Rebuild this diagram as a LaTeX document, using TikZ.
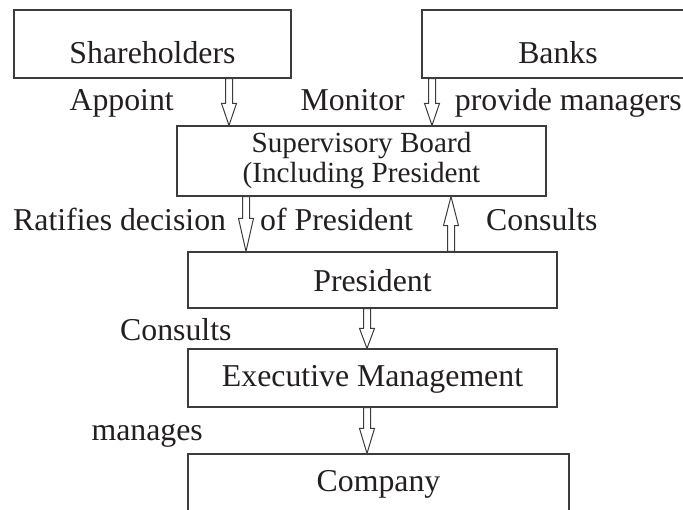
\documentclass[tikz,border=0pt]{standalone}
\usepackage{fontspec}
\setmainfont{Liberation Serif}
\usetikzlibrary{calc}
\definecolor{ink}{RGB}{35,31,32}
\definecolor{rule}{RGB}{60,60,60}
\tikzset{
  box/.style={draw=rule, line width=1.1pt, inner sep=0pt, text=ink,
    font=\fontsize{31.8}{38}\selectfont},
  tag/.style={inner sep=0pt, text=ink, font=\fontsize{31.8}{38}\selectfont},
  blockarrow/.style={draw=rule, fill=white, line width=1pt, line join=miter},
}
% hollow block arrow from #1 to #2 with a head of length #3
\newcommand\hollowarrow[3]{%
  \path ($(#2)!#3!(#1)$) coordinate (ha);
  \draw[blockarrow] ($(#1)!3.5pt!90:(#2)$) -- ($(ha)!3.5pt!-90:(#1)$)
    -- ($(ha)!7.5pt!-90:(#1)$) -- (#2) -- ($(ha)!7.5pt!90:(#1)$)
    -- ($(ha)!3.5pt!90:(#1)$) -- ($(#1)!3.5pt!-90:(#2)$) -- cycle;
}
\begin{document}
\begin{tikzpicture}[x=1pt, y=-1pt]
\useasboundingbox (0,0) rectangle (683,509);

% boxes
\node[box, minimum width=277pt, minimum height=68pt, text height=38pt, text depth=0pt] (sh) at (152.5,44) {Shareholders};
\node[box, minimum width=272pt, minimum height=68pt, text height=38pt, text depth=0pt] (bk) at (558,44) {Banks};
\node[box, minimum width=369pt, minimum height=70pt, align=center,
      font=\fontsize{29.2}{30}\selectfont] (sb) at (361.5,161) {Supervisory Board\\(Including President};
\node[box, minimum width=369pt, minimum height=56pt, text height=22pt, text depth=0pt] (pr) at (372.5,280) {President};
\node[box, minimum width=369pt, minimum height=58pt, text height=16pt, text depth=0pt] (ex) at (372.5,378) {Executive Management};
\node[box, minimum width=381pt, minimum height=60pt, text height=14pt, text depth=0pt] (co) at (378.5,484) {Company};

% labels beside the arrows
\node[tag, anchor=base east] (lAppoint) at (174,110) {Appoint};
\node[tag, anchor=base east] (lMonitor) at (405,110) {Monitor};
\node[tag, anchor=base east] (lProvide) at (682,110) {provide managers};
\node[tag, anchor=base west] (lRatify) at (13,230) {Ratifies decision};
\node[tag, anchor=base west] (lOf) at (260,230) {of President};
\node[tag, anchor=base west] (lConsultUp) at (486,230) {Consults};
\node[tag, anchor=base west] (lConsultDown) at (120,340) {Consults};
\node[tag, anchor=base east] (lManages) at (203,440) {manages};

% arrow columns
\coordinate (xa) at (229,0);
\coordinate (xb) at (432,0);
\coordinate (xc) at (246,0);
\coordinate (xd) at (451,0);
\coordinate (xe) at (367,0);

\coordinate (a1s) at (xa |- sh.south);  \coordinate (a1e) at (xa |- sb.north);
\coordinate (a2s) at (xb |- bk.south);  \coordinate (a2e) at (xb |- sb.north);
\coordinate (a3s) at (xc |- sb.south);  \coordinate (a3e) at (xc |- pr.north);
\coordinate (a4s) at (xd |- pr.north);  \coordinate (a4e) at (xd |- sb.south);
\coordinate (a5s) at (xe |- pr.south);  \coordinate (a5e) at (xe |- ex.north);
\coordinate (a6s) at (xe |- ex.south);  \coordinate (a6e) at (xe |- co.north);

\hollowarrow{a1s}{a1e}{22pt}
\hollowarrow{a2s}{a2e}{22pt}
\hollowarrow{a3s}{a3e}{33pt}
\hollowarrow{a4s}{a4e}{29pt}
\hollowarrow{a5s}{a5e}{20pt}
\hollowarrow{a6s}{a6e}{25pt}
\end{tikzpicture}
\end{document}
